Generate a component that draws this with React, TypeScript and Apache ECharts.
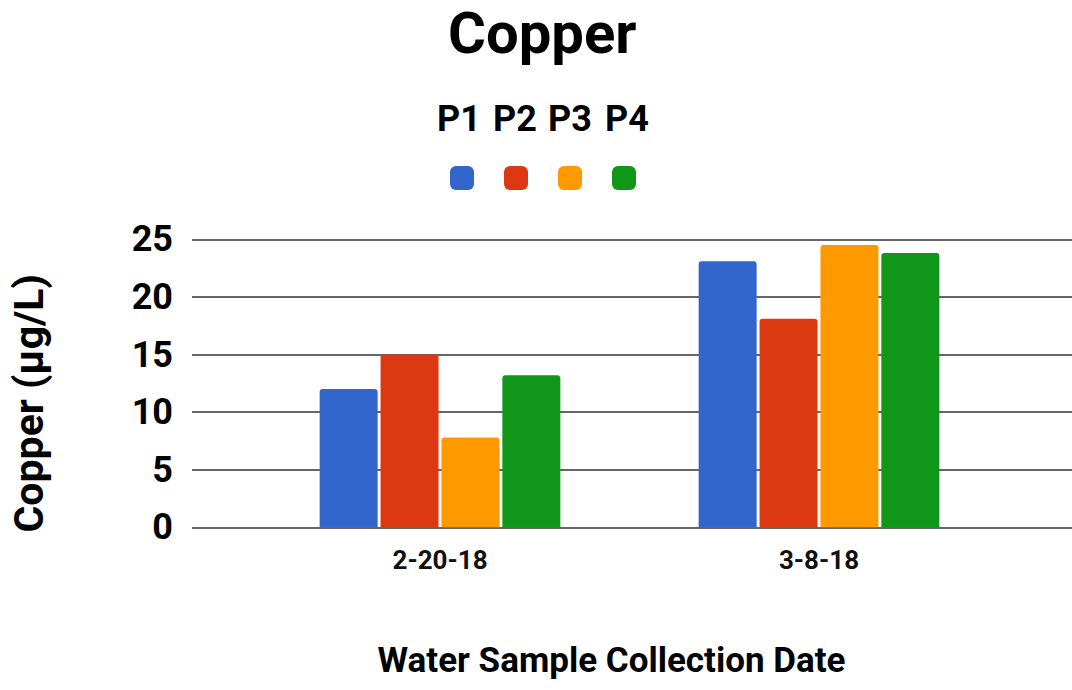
import React, { useEffect, useRef } from "react";
import * as echarts from "echarts";

const categories = ["2-20-18", "3-8-18"];
const seriesNames = ["P1", "P2", "P3", "P4"];
const p1 = [12, 23.1];
const p2 = [15, 18.1];
const p3 = [7.8, 24.5];
const p4 = [13.2, 23.8];
const seriesValues = [p1, p2, p3, p4];
const colors = ["#3366cc", "#dc3912", "#ff9900", "#109618"];
const yTicks = { min: 0, max: 25, interval: 5 };

const FONT = "Roboto";

export default function App() {
  const ref = useRef<HTMLDivElement>(null);
  useEffect(() => {
    if (!ref.current) return;
    const chart = echarts.init(ref.current, undefined, { renderer: "svg" });
    const labelLefts = [437, 493, 548, 605];
    chart.setOption({
      animation: false,
      backgroundColor: "#fff",
      title: {
        text: "Copper",
        left: 448,
        top: 4,
        padding: 0,
        textStyle: { fontFamily: FONT, fontWeight: "bold", fontSize: 58, color: "#000" },
      },
      legend: {
        data: seriesNames,
        left: 450,
        top: 166,
        padding: 0,
        itemWidth: 24,
        itemHeight: 24,
        itemGap: 30,
        icon: "roundRect",
        formatter: () => "",
        selectedMode: false,
      },
      graphic: seriesNames.map((n, i) => ({
        type: "text",
        left: labelLefts[i],
        top: 101,
        style: { text: n, fontFamily: FONT, fontWeight: "bold", fontSize: 36, fill: "#000" },
      })),
      grid: [
        { left: 183, right: 0, top: 239.3, bottom: 162.7 },
        { left: 250.5, right: 63.5, top: 239.3, bottom: 162.7 },
      ],
      xAxis: [
        { type: "value", gridIndex: 0, show: false, min: 0, max: 1 },
        {
          type: "category",
          gridIndex: 1,
          data: categories,
          axisLine: { show: false },
          axisTick: { show: false },
          axisLabel: { fontFamily: FONT, fontWeight: "bold", fontSize: 26, color: "#111", margin: 20 },
          name: "Water Sample Collection Date",
          nameLocation: "middle",
          nameGap: 116,
          nameTextStyle: { fontFamily: FONT, fontWeight: "bold", fontSize: 35, color: "#000", padding: [0, 36, 0, 0] },
        },
      ],
      yAxis: [
        {
          type: "value",
          gridIndex: 0,
          ...yTicks,
          axisLine: { show: false },
          axisTick: { show: false },
          splitLine: { lineStyle: { color: "#333", width: 1.5 } },
          axisLabel: { fontFamily: FONT, fontWeight: "bold", fontSize: 36, color: "#000", margin: 19 },
          name: "Copper (µg/L)",
          nameLocation: "middle",
          nameGap: 143,
          nameTextStyle: { fontFamily: FONT, fontWeight: "bold", fontSize: 41, color: "#000", padding: [0, 40, 0, 0] },
        },
        { type: "value", gridIndex: 1, ...yTicks, show: false },
      ],
      series: seriesNames.map((n, i) => ({
        name: n,
        type: "bar",
        xAxisIndex: 1,
        yAxisIndex: 1,
        data: seriesValues[i],
        barWidth: 58,
        barGap: "5%",
        itemStyle: { color: colors[i], borderRadius: [3, 3, 0, 0] },
      })),
    });
    return () => chart.dispose();
  }, []);
  return (
    <div
      ref={ref}
      style={{ position: "fixed", left: 0, top: 0, width: 1072, height: 690, background: "#fff" }}
    />
  );
}
